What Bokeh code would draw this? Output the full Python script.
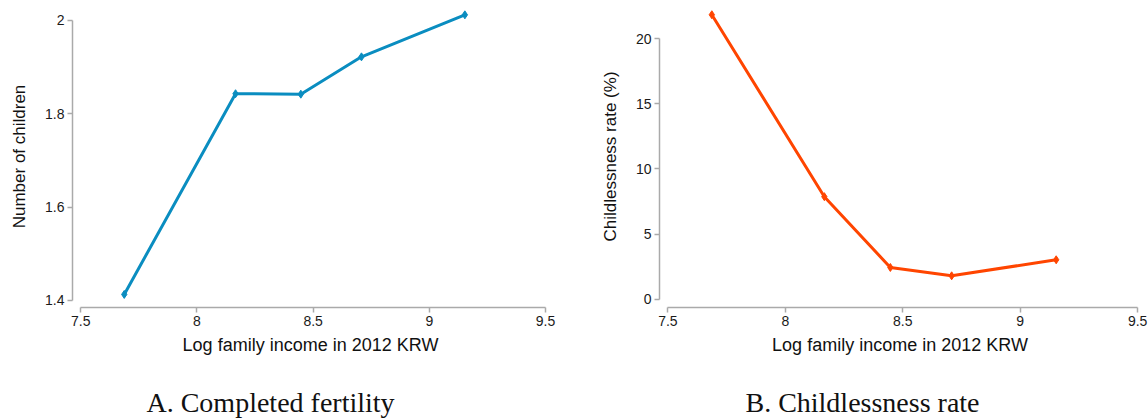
from bokeh.plotting import figure
from bokeh.layouts import row, column
from bokeh.models import FixedTicker, CustomJSTickFormatter, Range1d
from bokeh.core.properties import value
from bokeh.embed import file_html
from bokeh.resources import INLINE

# ---- data ----
income = [7.687, 8.166, 8.447, 8.708, 9.153]
children = [1.413, 1.843, 1.842, 1.922, 2.012]
childless = [21.85, 7.87, 2.43, 1.79, 3.02]

x_ticks = [7.5, 8, 8.5, 9, 9.5]
y_ticks_a = [1.4, 1.6, 1.8, 2.0]
y_ticks_b = [0, 5, 10, 15, 20]

x_label = "Log family income in 2012 KRW"
y_label_a = "Number of children"
y_label_b = "Childlessness rate (%)"
caption_a = "A. Completed fertility"
caption_b = "B. Childlessness rate"

BLUE = "#0a8dc0"
ORANGE = "#ff4500"
AXIS = "#aaaaaa"
SANS = "Liberation Sans"
SERIF = "Liberation Serif"

fmt_code = "return tick.toString();"


def style(p, yticks, ybounds):
    p.xgrid.visible = False
    p.ygrid.visible = False
    p.outline_line_color = None
    p.background_fill_color = "white"
    p.border_fill_color = "white"
    p.xaxis.ticker = FixedTicker(ticks=x_ticks)
    p.yaxis.ticker = FixedTicker(ticks=yticks)
    p.xaxis.bounds = (x_ticks[0], x_ticks[-1])
    p.yaxis.bounds = ybounds
    for ax in (p.xaxis[0], p.yaxis[0]):
        ax.formatter = CustomJSTickFormatter(code=fmt_code)
        ax.axis_line_color = AXIS
        ax.axis_line_width = 1.5
        ax.major_tick_line_color = AXIS
        ax.major_tick_line_width = 1.5
        ax.major_tick_out = 5
        ax.major_tick_in = 0
        ax.minor_tick_line_color = None
        ax.major_label_text_font = SANS
        ax.major_label_text_font_size = "14px"
        ax.major_label_text_color = "#1a1a1a"
        ax.major_label_standoff = 3
        ax.axis_label_text_font = SANS
        ax.axis_label_text_font_style = "normal"
        ax.axis_label_text_color = "#111111"
    p.xaxis.axis_label_text_font_size = "18px"
    p.yaxis.axis_label_text_font_size = "17px"
    p.xaxis.axis_label_standoff = 6
    p.yaxis.axis_label_standoff = 13


def caption_fig(text, cx):
    c = figure(width=574, height=49, output_backend="svg", toolbar_location=None,
               x_range=Range1d(0, 574), y_range=Range1d(0, 49),
               x_axis_location=None, y_axis_location=None,
               min_border_left=0, min_border_right=0, min_border_top=0, min_border_bottom=0)
    c.xgrid.visible = False
    c.ygrid.visible = False
    c.outline_line_color = None
    c.background_fill_color = "white"
    c.border_fill_color = "white"
    c.text(x=[cx], y=[17], text=[text], text_align="center", text_baseline="alphabetic",
           text_font=value(SERIF), text_font_size="28px", text_color="#111111")
    return c


# ---- panel A ----
pa = figure(width=574, height=370, output_backend="svg", toolbar_location=None,
            x_range=Range1d(7.4643, 9.513), y_range=Range1d(1.385, 2.032),
            min_border_left=72, min_border_right=26, min_border_top=5, min_border_bottom=63,
            x_axis_label=x_label, y_axis_label=y_label_a)
style(pa, y_ticks_a, (1.4, 2.0))
pa.line(income, children, line_color=BLUE, line_width=3)
pa.scatter(income, children, marker="diamond", size=8, fill_color=BLUE, line_color=BLUE)

# ---- panel B ----
pb = figure(width=574, height=370, output_backend="svg", toolbar_location=None,
            x_range=Range1d(7.4642, 9.512), y_range=Range1d(-0.646, 22.56),
            min_border_left=85, min_border_right=8, min_border_top=5, min_border_bottom=63,
            x_axis_label=x_label, y_axis_label=y_label_b)
style(pb, y_ticks_b, (0, 20))
pb.line(income, childless, line_color=ORANGE, line_width=3)
pb.scatter(income, childless, marker="diamond", size=8, fill_color=ORANGE, line_color=ORANGE)

ca = caption_fig(caption_a, 270)
cb = caption_fig(caption_b, 288)

layout = column(row(pa, pb), row(ca, cb))
open("out.html", "w").write(file_html(layout, INLINE))
